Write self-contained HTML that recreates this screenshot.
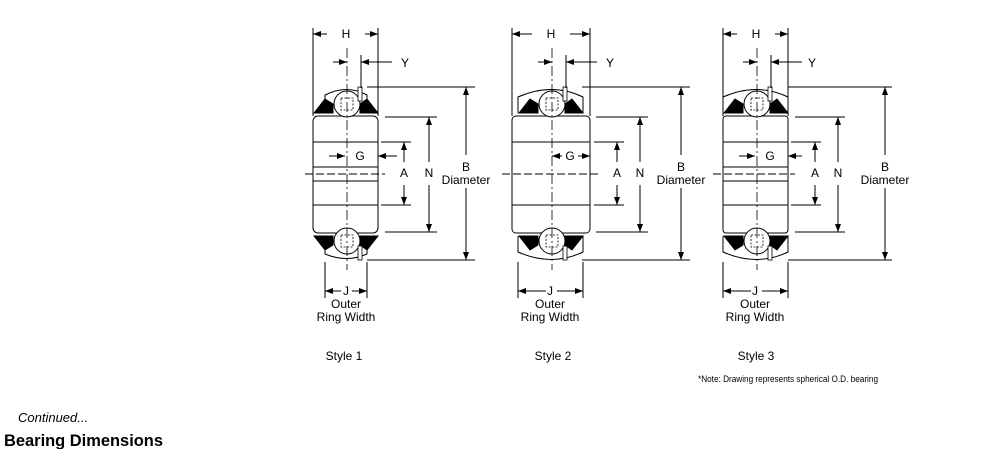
<!DOCTYPE html>
<html><head><meta charset="utf-8"><style>
html,body{margin:0;padding:0;background:#fff;}
svg{display:block;}
text{font-family:"Liberation Sans",Arial,sans-serif;fill:#000;}
</style></head><body>
<svg width="981" height="449" viewBox="0 0 981 449" xmlns="http://www.w3.org/2000/svg">
<defs>
<marker id="ar" viewBox="0 0 8 6" refX="8" refY="3" markerWidth="8" markerHeight="6" orient="auto" markerUnits="userSpaceOnUse"><path d="M0,0 L8,3 L0,6 z" fill="#000"/></marker>
<g id="seals">
 <polygon points="-33,113 -22,99 -14,104 -14,113" fill="#000"/>
 <polygon points="31,113 20,99 13,104 13,113" fill="#000"/>
 <polygon points="-33,236 -22,250 -14,245 -14,236" fill="#000"/>
 <polygon points="31,236 20,250 13,245 13,236" fill="#000"/>
 <circle cx="0" cy="104" r="13" fill="#fff" stroke="#000"/>
 <rect x="-6" y="98" width="12" height="12" fill="none" stroke="#000" stroke-dasharray="2,1.5" stroke-width="0.8"/>
 <circle cx="0" cy="241" r="13" fill="#fff" stroke="#000"/>
 <rect x="-6" y="235" width="12" height="12" fill="none" stroke="#000" stroke-dasharray="2,1.5" stroke-width="0.8"/>
 <rect x="11" y="87" width="4" height="14" fill="#fff" stroke="#000" stroke-width="0.8"/>
 <rect x="11" y="246" width="4" height="14" fill="#fff" stroke="#000" stroke-width="0.8"/>
 <line x1="0" y1="48" x2="0" y2="270" stroke="#000" stroke-width="0.8" stroke-dasharray="10,3,2,3"/>
</g>
</defs>

<g fill="none" stroke="#000" stroke-width="1">

<!-- ===== Style 1 ===== -->
<g transform="translate(347,0)">
 <path d="M-22,113 L-22,95 Q0,84 20,95 L20,113" fill="#fff"/>
 <path d="M-22,236 L-22,254 Q0,263 20,254 L20,236" fill="#fff"/>
 <rect x="-34" y="116" width="65" height="117" rx="5" fill="#fff"/>
 <line x1="-34" y1="142" x2="31" y2="142"/>
 <line x1="-34" y1="205" x2="31" y2="205"/>
 <line x1="-34" y1="167" x2="31" y2="167"/>
 <line x1="-34" y1="181" x2="31" y2="181"/>
 <use href="#seals"/>
 <line x1="-42" y1="174" x2="38" y2="174" stroke-dasharray="8,3"/>
 <!-- H -->
 <line x1="-34" y1="28" x2="-34" y2="116"/><line x1="31" y1="28" x2="31" y2="116"/>
 <line x1="-20" y1="34" x2="-34" y2="34" marker-end="url(#ar)"/><line x1="18" y1="34" x2="31" y2="34" marker-end="url(#ar)"/>
 <!-- Y -->
 <line x1="14" y1="55" x2="14" y2="88"/>
 <line x1="-14" y1="62" x2="0" y2="62" marker-end="url(#ar)"/><line x1="45" y1="62" x2="14" y2="62" marker-end="url(#ar)"/>
 <!-- G -->
 <line x1="-18" y1="156" x2="-2" y2="156" marker-end="url(#ar)"/><line x1="50" y1="156" x2="31" y2="156" marker-end="url(#ar)"/>
 <!-- A -->
 <line x1="34" y1="142" x2="64" y2="142"/><line x1="34" y1="205" x2="64" y2="205"/>
 <line x1="57" y1="162" x2="57" y2="142" marker-end="url(#ar)"/><line x1="57" y1="185" x2="57" y2="205" marker-end="url(#ar)"/>
 <!-- N -->
 <line x1="38" y1="117" x2="90" y2="117"/><line x1="38" y1="232" x2="90" y2="232"/>
 <line x1="82" y1="162" x2="82" y2="117" marker-end="url(#ar)"/><line x1="82" y1="185" x2="82" y2="232" marker-end="url(#ar)"/>
 <!-- B -->
 <line x1="20" y1="87" x2="128" y2="87"/><line x1="20" y1="260" x2="128" y2="260"/>
 <line x1="119" y1="155" x2="119" y2="87" marker-end="url(#ar)"/><line x1="119" y1="188" x2="119" y2="260" marker-end="url(#ar)"/>
 <!-- J -->
 <line x1="-22" y1="262" x2="-22" y2="298"/><line x1="20" y1="262" x2="20" y2="298"/>
 <line x1="-6" y1="291" x2="-22" y2="291" marker-end="url(#ar)"/><line x1="5" y1="291" x2="20" y2="291" marker-end="url(#ar)"/>
</g>

<!-- ===== Style 2 ===== -->
<g transform="translate(552,0)">
 <path d="M-34,113 L-34,97 Q0,82 31,97 L31,113" fill="#fff"/>
 <path d="M-34,236 L-34,252 Q0,267 31,252 L31,236" fill="#fff"/>
 <rect x="-40" y="116" width="78" height="117" rx="4" fill="#fff"/>
 <line x1="-40" y1="142" x2="38" y2="142"/>
 <line x1="-40" y1="205" x2="38" y2="205"/>
 <use href="#seals"/>
 <line x1="-50" y1="174" x2="46" y2="174" stroke-dasharray="8,3"/>
 <line x1="-40" y1="28" x2="-40" y2="116"/><line x1="38" y1="28" x2="38" y2="116"/>
 <line x1="-20" y1="34" x2="-40" y2="34" marker-end="url(#ar)"/><line x1="18" y1="34" x2="38" y2="34" marker-end="url(#ar)"/>
 <line x1="14" y1="55" x2="14" y2="88"/>
 <line x1="-14" y1="62" x2="0" y2="62" marker-end="url(#ar)"/><line x1="45" y1="62" x2="14" y2="62" marker-end="url(#ar)"/>
 <line x1="10" y1="156" x2="0" y2="156" marker-end="url(#ar)"/><line x1="26" y1="156" x2="38" y2="156" marker-end="url(#ar)"/>
 <line x1="42" y1="142" x2="72" y2="142"/><line x1="42" y1="205" x2="72" y2="205"/>
 <line x1="65" y1="162" x2="65" y2="142" marker-end="url(#ar)"/><line x1="65" y1="185" x2="65" y2="205" marker-end="url(#ar)"/>
 <line x1="44" y1="117" x2="96" y2="117"/><line x1="44" y1="232" x2="96" y2="232"/>
 <line x1="88" y1="162" x2="88" y2="117" marker-end="url(#ar)"/><line x1="88" y1="185" x2="88" y2="232" marker-end="url(#ar)"/>
 <line x1="30" y1="87" x2="138" y2="87"/><line x1="30" y1="260" x2="138" y2="260"/>
 <line x1="129" y1="155" x2="129" y2="87" marker-end="url(#ar)"/><line x1="129" y1="188" x2="129" y2="260" marker-end="url(#ar)"/>
 <line x1="-34" y1="262" x2="-34" y2="298"/><line x1="31" y1="262" x2="31" y2="298"/>
 <line x1="-6" y1="291" x2="-34" y2="291" marker-end="url(#ar)"/><line x1="5" y1="291" x2="31" y2="291" marker-end="url(#ar)"/>
</g>

<!-- ===== Style 3 ===== -->
<g transform="translate(757,0)">
 <path d="M-34,113 L-34,97 Q0,82 31,97 L31,113" fill="#fff"/>
 <path d="M-34,236 L-34,252 Q0,267 31,252 L31,236" fill="#fff"/>
 <rect x="-34" y="116" width="65" height="117" rx="3" fill="#fff"/>
 <line x1="-34" y1="142" x2="31" y2="142"/>
 <line x1="-34" y1="205" x2="31" y2="205"/>
 <line x1="-34" y1="167" x2="31" y2="167"/>
 <line x1="-34" y1="181" x2="31" y2="181"/>
 <use href="#seals"/>
 <line x1="-44" y1="174" x2="38" y2="174" stroke-dasharray="8,3"/>
 <line x1="-34" y1="28" x2="-34" y2="116"/><line x1="31" y1="28" x2="31" y2="116"/>
 <line x1="-20" y1="34" x2="-34" y2="34" marker-end="url(#ar)"/><line x1="18" y1="34" x2="31" y2="34" marker-end="url(#ar)"/>
 <line x1="14" y1="55" x2="14" y2="88"/>
 <line x1="-14" y1="62" x2="0" y2="62" marker-end="url(#ar)"/><line x1="45" y1="62" x2="14" y2="62" marker-end="url(#ar)"/>
 <line x1="-18" y1="156" x2="-2" y2="156" marker-end="url(#ar)"/><line x1="45" y1="156" x2="31" y2="156" marker-end="url(#ar)"/>
 <line x1="34" y1="142" x2="64" y2="142"/><line x1="34" y1="205" x2="64" y2="205"/>
 <line x1="58" y1="162" x2="58" y2="142" marker-end="url(#ar)"/><line x1="58" y1="185" x2="58" y2="205" marker-end="url(#ar)"/>
 <line x1="38" y1="117" x2="88" y2="117"/><line x1="38" y1="232" x2="88" y2="232"/>
 <line x1="81" y1="162" x2="81" y2="117" marker-end="url(#ar)"/><line x1="81" y1="185" x2="81" y2="232" marker-end="url(#ar)"/>
 <line x1="31" y1="87" x2="135" y2="87"/><line x1="31" y1="260" x2="135" y2="260"/>
 <line x1="128" y1="155" x2="128" y2="87" marker-end="url(#ar)"/><line x1="128" y1="188" x2="128" y2="260" marker-end="url(#ar)"/>
 <line x1="-34" y1="262" x2="-34" y2="298"/><line x1="31" y1="262" x2="31" y2="298"/>
 <line x1="-6" y1="291" x2="-34" y2="291" marker-end="url(#ar)"/><line x1="5" y1="291" x2="31" y2="291" marker-end="url(#ar)"/>
</g>
</g>

<g font-size="12" text-anchor="middle">
 <text x="346" y="38">H</text><text x="405" y="67">Y</text><text x="360" y="160">G</text>
 <text x="404" y="177">A</text><text x="429" y="177">N</text><text x="466" y="171">B</text><text x="466" y="184">Diameter</text>
 <text x="346" y="295">J</text><text x="346" y="308">Outer</text><text x="346" y="321">Ring Width</text>

 <text x="551" y="38">H</text><text x="610" y="67">Y</text><text x="570" y="160">G</text>
 <text x="617" y="177">A</text><text x="640" y="177">N</text><text x="681" y="171">B</text><text x="681" y="184">Diameter</text>
 <text x="550" y="295">J</text><text x="550" y="308">Outer</text><text x="550" y="321">Ring Width</text>

 <text x="756" y="38">H</text><text x="812" y="67">Y</text><text x="770" y="160">G</text>
 <text x="815" y="177">A</text><text x="838" y="177">N</text><text x="885" y="171">B</text><text x="885" y="184">Diameter</text>
 <text x="755" y="295">J</text><text x="755" y="308">Outer</text><text x="755" y="321">Ring Width</text>

 <text x="344" y="360">Style 1</text><text x="553" y="360">Style 2</text><text x="756" y="360">Style 3</text>
</g>
<text x="698" y="382" font-size="9" textLength="180" lengthAdjust="spacingAndGlyphs">*Note: Drawing represents spherical O.D. bearing</text>
<text x="18" y="422" font-size="13" font-style="italic">Continued...</text>
<text x="4" y="446" font-size="17" font-weight="bold" textLength="159" lengthAdjust="spacingAndGlyphs">Bearing Dimensions</text>
</svg>
</body></html>
